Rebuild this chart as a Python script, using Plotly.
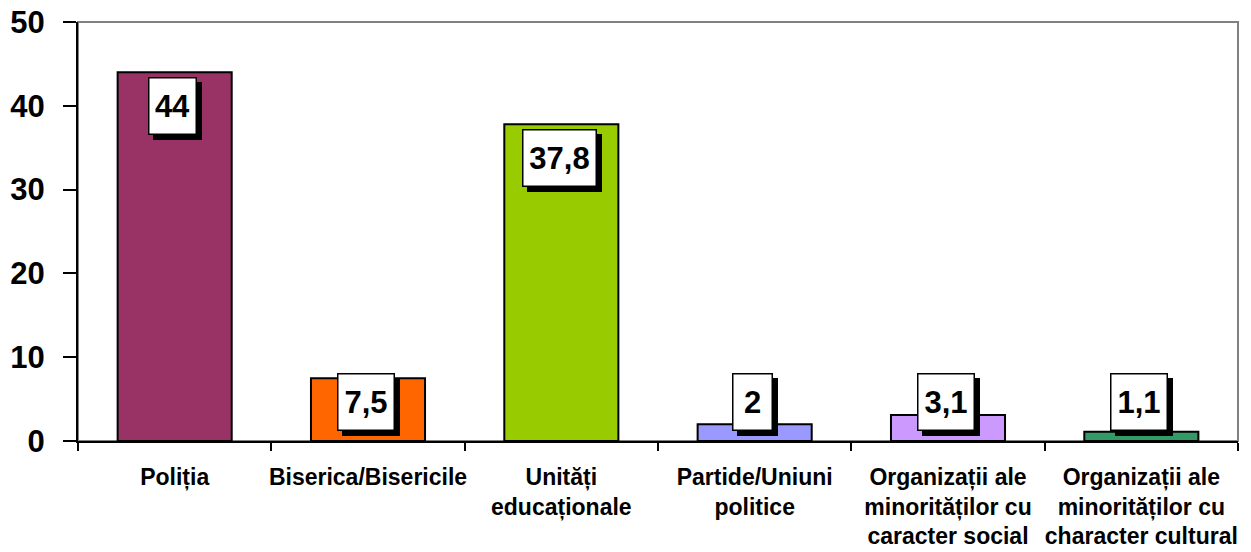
import plotly.graph_objects as go

categories = [
    "Poliția",
    "Biserica/Bisericile",
    "Unități<br>educaționale",
    "Partide/Uniuni<br>politice",
    "Organizații ale<br>minorităților cu<br>caracter social",
    "Organizații ale<br>minorităților cu<br>character cultural",
]
values = [44, 7.5, 37.8, 2, 3.1, 1.1]
value_labels = ["44", "7,5", "37,8", "2", "3,1", "1,1"]
bar_colors = ["#993366", "#FF6600", "#99CC00", "#9999FF", "#CC99FF", "#339966"]

FONT = "Liberation Sans, Arial, sans-serif"

fig = go.Figure()
fig.add_trace(go.Bar(
    x=categories, y=values, width=0.59,
    marker=dict(color=bar_colors, line=dict(color="black", width=2)),
    hoverinfo="x+y",
))

# data labels: white box with a black drop shadow, kept clear of the x axis
for cat, v, lab in zip(categories, values, value_labels):
    y_lab = max(v, 8.7)
    n_comma = lab.count(",")
    w = max(30, 17 * (len(lab) - n_comma) + 9 * n_comma + 4)
    for dx, dy, bg in [(3, -10, "black"), (-2, -5, "white")]:
        fig.add_annotation(
            x=cat, y=y_lab, xref="x", yref="y", yanchor="top",
            xshift=dx, yshift=dy, text=lab, showarrow=False,
            width=w, height=47, borderpad=4, borderwidth=1.5,
            bgcolor=bg, bordercolor="black",
            font=dict(family=FONT, size=31, color="black", weight="bold"),
        )

# grey frame on top/right of the plot area
fig.add_shape(type="rect", xref="paper", yref="paper", x0=0, x1=1, y0=0, y1=1,
              line=dict(color="#808080", width=2), layer="below")

# page body adds an 8px margin, so the figure is 8px smaller on each side
fig.update_layout(
    width=1243, height=544,
    margin=dict(l=70, r=13, t=14, b=111),
    paper_bgcolor="white", plot_bgcolor="white",
    showlegend=False,
    xaxis=dict(
        type="category", tickson="boundaries", tickangle=0, automargin=False,
        showline=True, linecolor="black", linewidth=2,
        ticks="outside", ticklen=8, tickwidth=2, tickcolor="black",
        showgrid=False, ticklabelstandoff=14, ticklabeloverflow="allow",
        tickfont=dict(family=FONT, size=23, color="black", weight="bold"),
    ),
    yaxis=dict(
        range=[0, 50], dtick=10, automargin=False,
        showline=True, linecolor="black", linewidth=2,
        ticks="outside", ticklen=13, tickwidth=2, tickcolor="black",
        showgrid=False, zeroline=False, ticklabelstandoff=12,
        ticklabeloverflow="allow",
        tickfont=dict(family=FONT, size=31, color="black", weight="bold"),
    ),
)

fig.write_html("out.html")
